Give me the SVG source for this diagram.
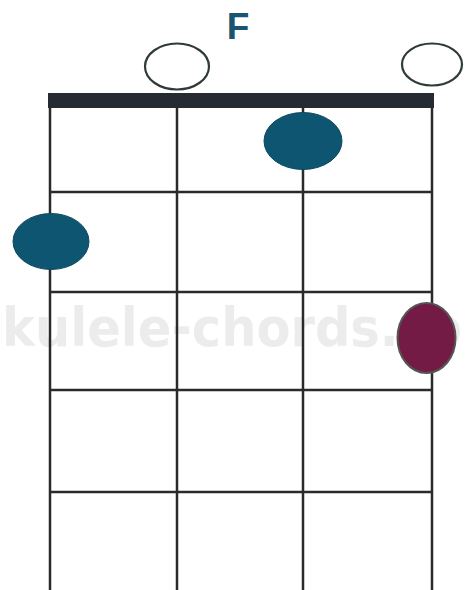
<svg xmlns="http://www.w3.org/2000/svg" width="466" height="590" viewBox="0 0 466 590">
<style>
.str{stroke:#2a2a2a;stroke-width:2.5;fill:none}
.open{fill:#fff;stroke:#2f3a3a;stroke-width:2.2}
.dot{fill:#0d5570;stroke:#0d4a60;stroke-width:1}
.dot2{fill:#741b45;stroke:#555;stroke-width:2}
.wm{font-family:"DejaVu Sans Condensed","DejaVu Sans",sans-serif;font-weight:bold;fill:#ececec}
.title{font-family:"Liberation Sans",Arial,sans-serif;font-weight:bold;fill:#1a5470}
</style>
<rect width="466" height="590" fill="#fff"/>
<text class="wm" x="2" y="346" font-size="54" textLength="460" lengthAdjust="spacingAndGlyphs">kulele-chords.co</text>
<g id="grid">
<line class="str" x1="50" y1="100" x2="50" y2="590"/>
<line class="str" x1="177" y1="100" x2="177" y2="590"/>
<line class="str" x1="303" y1="100" x2="303" y2="590"/>
<line class="str" x1="432" y1="100" x2="432" y2="590"/>
<line class="str" x1="50" y1="192" x2="432" y2="192"/>
<line class="str" x1="50" y1="292" x2="432" y2="292"/>
<line class="str" x1="50" y1="390" x2="432" y2="390"/>
<line class="str" x1="50" y1="492" x2="432" y2="492"/>
</g>
<g id="nut"><rect x="48" y="93" width="386" height="15" fill="#262a33"/></g>
<g id="title"><text class="title" x="238" y="39" font-size="37" text-anchor="middle">F</text></g>
<g id="open1"><ellipse class="open" cx="177" cy="66.5" rx="32" ry="23"/></g>
<g id="open4"><ellipse class="open" cx="432" cy="64.5" rx="30" ry="21"/></g>
<g id="dot3"><ellipse class="dot" cx="303" cy="141" rx="39" ry="28.5"/></g>
<g id="dot1"><ellipse class="dot" cx="51" cy="241.5" rx="38" ry="28"/></g>
<g id="dot4"><ellipse class="dot2" cx="426.5" cy="338" rx="29" ry="35"/></g>
<g id="connectors"></g>
</svg>
